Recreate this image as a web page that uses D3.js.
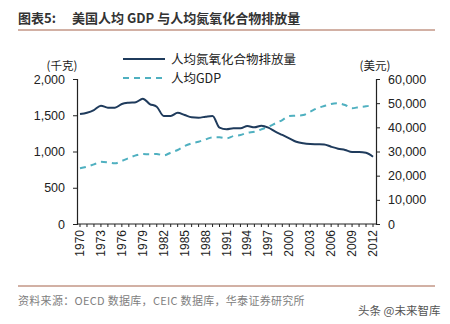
<!DOCTYPE html>
<html>
<head>
<meta charset="utf-8">
<script src="https://cdn.jsdelivr.net/npm/d3@7"></script>
<style>
  body { margin: 0; background: #fff; }
  svg { display: block; font-family: "Liberation Sans", Arial, "Noto Sans CJK SC", sans-serif; }
</style>
</head>
<body>
<div id="chart"></div>
<script>
"use strict"

// years 1970-2012
const years = d3.range(1970, 2013);

// NOx emission per capita, kg (left axis)
const noxPerCapita = [
    1517, 1535, 1572, 1632, 1604, 1604, 1655, 1673, 1680, 1729,
    1655, 1618, 1490, 1490, 1535, 1503, 1471, 1467, 1480, 1490,
    1329, 1306, 1320, 1320, 1352, 1333, 1356, 1329, 1273, 1228,
    1182, 1135, 1113, 1103, 1100, 1097, 1066, 1039, 1021, 993,
    993, 983, 928
];

// GDP per capita, USD (right axis)
const gdpPerCapita = [
    23050, 23720, 24690, 25780, 25520, 25100, 26070, 27310, 28410, 28970,
    28830, 28970, 28410, 29520, 30620, 32270, 33380, 34070, 35030, 35860,
    35860, 35450, 36400, 36830, 37790, 38200, 39170, 40260, 41650, 43030,
    44690, 44830, 45100, 46470, 47870, 48830, 49660, 49930, 49240, 47870,
    48400, 48700, 49240
];

const leftTicks = [0, 500, 1000, 1500, 2000];
const rightTicks = [0, 10000, 20000, 30000, 40000, 50000, 60000];
const yearLabels = years.filter(y => (y - 1970) % 3 === 0);

const seriesNames = ["人均氮氧化合物排放量", "人均GDP"];
const colors = ["#1f3b5c", "#4fb0c0"];

const W = 450, H = 324;
const svg = d3.select("#chart").append("svg")
    .attr("width", W)
    .attr("height", H);

const cjk = "'Noto Sans CJK SC', sans-serif";

// title and rules
svg.append("text")
    .attr("x", 18).attr("y", 23)
    .attr("font-size", 13)
    .attr("font-weight", "bold")
    .attr("fill", "#333")
    .attr("font-family", cjk)
    .text("图表5:");

svg.append("text")
    .attr("x", 72).attr("y", 23)
    .attr("font-size", 13)
    .attr("font-weight", "bold")
    .attr("fill", "#333")
    .attr("font-family", cjk)
    .text("美国人均 GDP 与人均氮氧化合物排放量");

svg.append("line")
    .attr("x1", 18).attr("x2", 435)
    .attr("y1", 30).attr("y2", 30)
    .attr("stroke", "#a5624a").attr("stroke-width", 1);

svg.append("line")
    .attr("x1", 18).attr("x2", 435)
    .attr("y1", 286).attr("y2", 286)
    .attr("stroke", "#a5624a").attr("stroke-width", 1);

svg.append("text")
    .attr("x", 18).attr("y", 305)
    .attr("font-size", 11)
    .attr("letter-spacing", 0.3)
    .attr("fill", "#808080")
    .attr("font-family", cjk)
    .text("资料来源：OECD 数据库，CEIC 数据库，华泰证券研究所");

svg.append("text")
    .attr("x", 358).attr("y", 315)
    .attr("font-size", 11.5)
    .attr("fill", "#555")
    .attr("font-family", cjk)
    .text("头条 @未来智库");

// plot area
const plotL = 77, plotR = 376, plotT = 79, plotB = 224;

const x = d3.scaleLinear()
    .domain([1970, 2012])
    .range([80, 373]);

const yL = d3.scaleLinear().domain([0, 2000]).range([plotB, plotT]);
const yR = d3.scaleLinear().domain([0, 60000]).range([plotB, plotT]);

const fmt = d3.format(",");

const axisL = svg.append("g")
    .attr("transform", `translate(${plotL},0)`)
    .call(d3.axisLeft(yL).tickValues(leftTicks).tickFormat(fmt).tickSize(4).tickPadding(8));

const axisR = svg.append("g")
    .attr("transform", `translate(${plotR},0)`)
    .call(d3.axisRight(yR).tickValues(rightTicks).tickFormat(fmt).tickSize(4).tickPadding(8));

[axisL, axisR].forEach(g => {
    g.select(".domain").attr("stroke", "#222").attr("stroke-width", 1.2);
    g.selectAll(".tick line").attr("stroke", "#222");
    g.selectAll("text").attr("font-size", 12.5).attr("fill", "#222")
        .attr("font-family", "'Liberation Sans', Arial, sans-serif");
});

// x axis baseline with a tick per year
svg.append("line")
    .attr("x1", plotL).attr("x2", plotR)
    .attr("y1", plotB).attr("y2", plotB)
    .attr("stroke", "#222").attr("stroke-width", 1.2);

svg.selectAll(".xtick").data(years).enter().append("line")
    .attr("class", "xtick")
    .attr("x1", d => x(d)).attr("x2", d => x(d))
    .attr("y1", plotB).attr("y2", plotB + 3)
    .attr("stroke", "#222");

svg.selectAll(".xlabel").data(yearLabels).enter().append("text")
    .attr("class", "xlabel")
    .attr("transform", d => `translate(${x(d) + 4},${plotB + 6}) rotate(-90)`)
    .attr("text-anchor", "end")
    .attr("font-size", 12)
    .attr("fill", "#222")
    .text(d => d);

// unit labels
svg.append("text")
    .attr("x", 62).attr("y", 70)
    .attr("text-anchor", "middle")
    .attr("font-size", 11.5).attr("fill", "#222")
    .attr("font-family", cjk)
    .text("(千克)");

svg.append("text")
    .attr("x", 375).attr("y", 70)
    .attr("text-anchor", "middle")
    .attr("font-size", 11.5).attr("fill", "#222")
    .attr("font-family", cjk)
    .text("(美元)");

// lines
const lineL = d3.line()
    .x((d, i) => x(years[i]))
    .y(d => yL(d))
    .curve(d3.curveMonotoneX);

const lineR = d3.line()
    .x((d, i) => x(years[i]))
    .y(d => yR(d))
    .curve(d3.curveMonotoneX);

svg.append("path")
    .datum(gdpPerCapita)
    .attr("d", lineR)
    .attr("fill", "none")
    .attr("stroke", colors[1])
    .attr("stroke-width", 2)
    .attr("stroke-dasharray", "6,5");

svg.append("path")
    .datum(noxPerCapita)
    .attr("d", lineL)
    .attr("fill", "none")
    .attr("stroke", colors[0])
    .attr("stroke-width", 2);

// legend
const legend = svg.append("g");
seriesNames.forEach((name, i) => {
    const ly = 59 + i * 19;
    legend.append("line")
        .attr("x1", 123).attr("x2", 165)
        .attr("y1", ly).attr("y2", ly)
        .attr("stroke", colors[i])
        .attr("stroke-width", 2)
        .attr("stroke-dasharray", i === 1 ? "6,5" : null);
    legend.append("text")
        .attr("x", 171).attr("y", ly + 4.5)
        .attr("font-size", 12.5)
        .attr("fill", "#222")
        .attr("font-family", cjk)
        .text(name);
});
</script>
</body>
</html>
